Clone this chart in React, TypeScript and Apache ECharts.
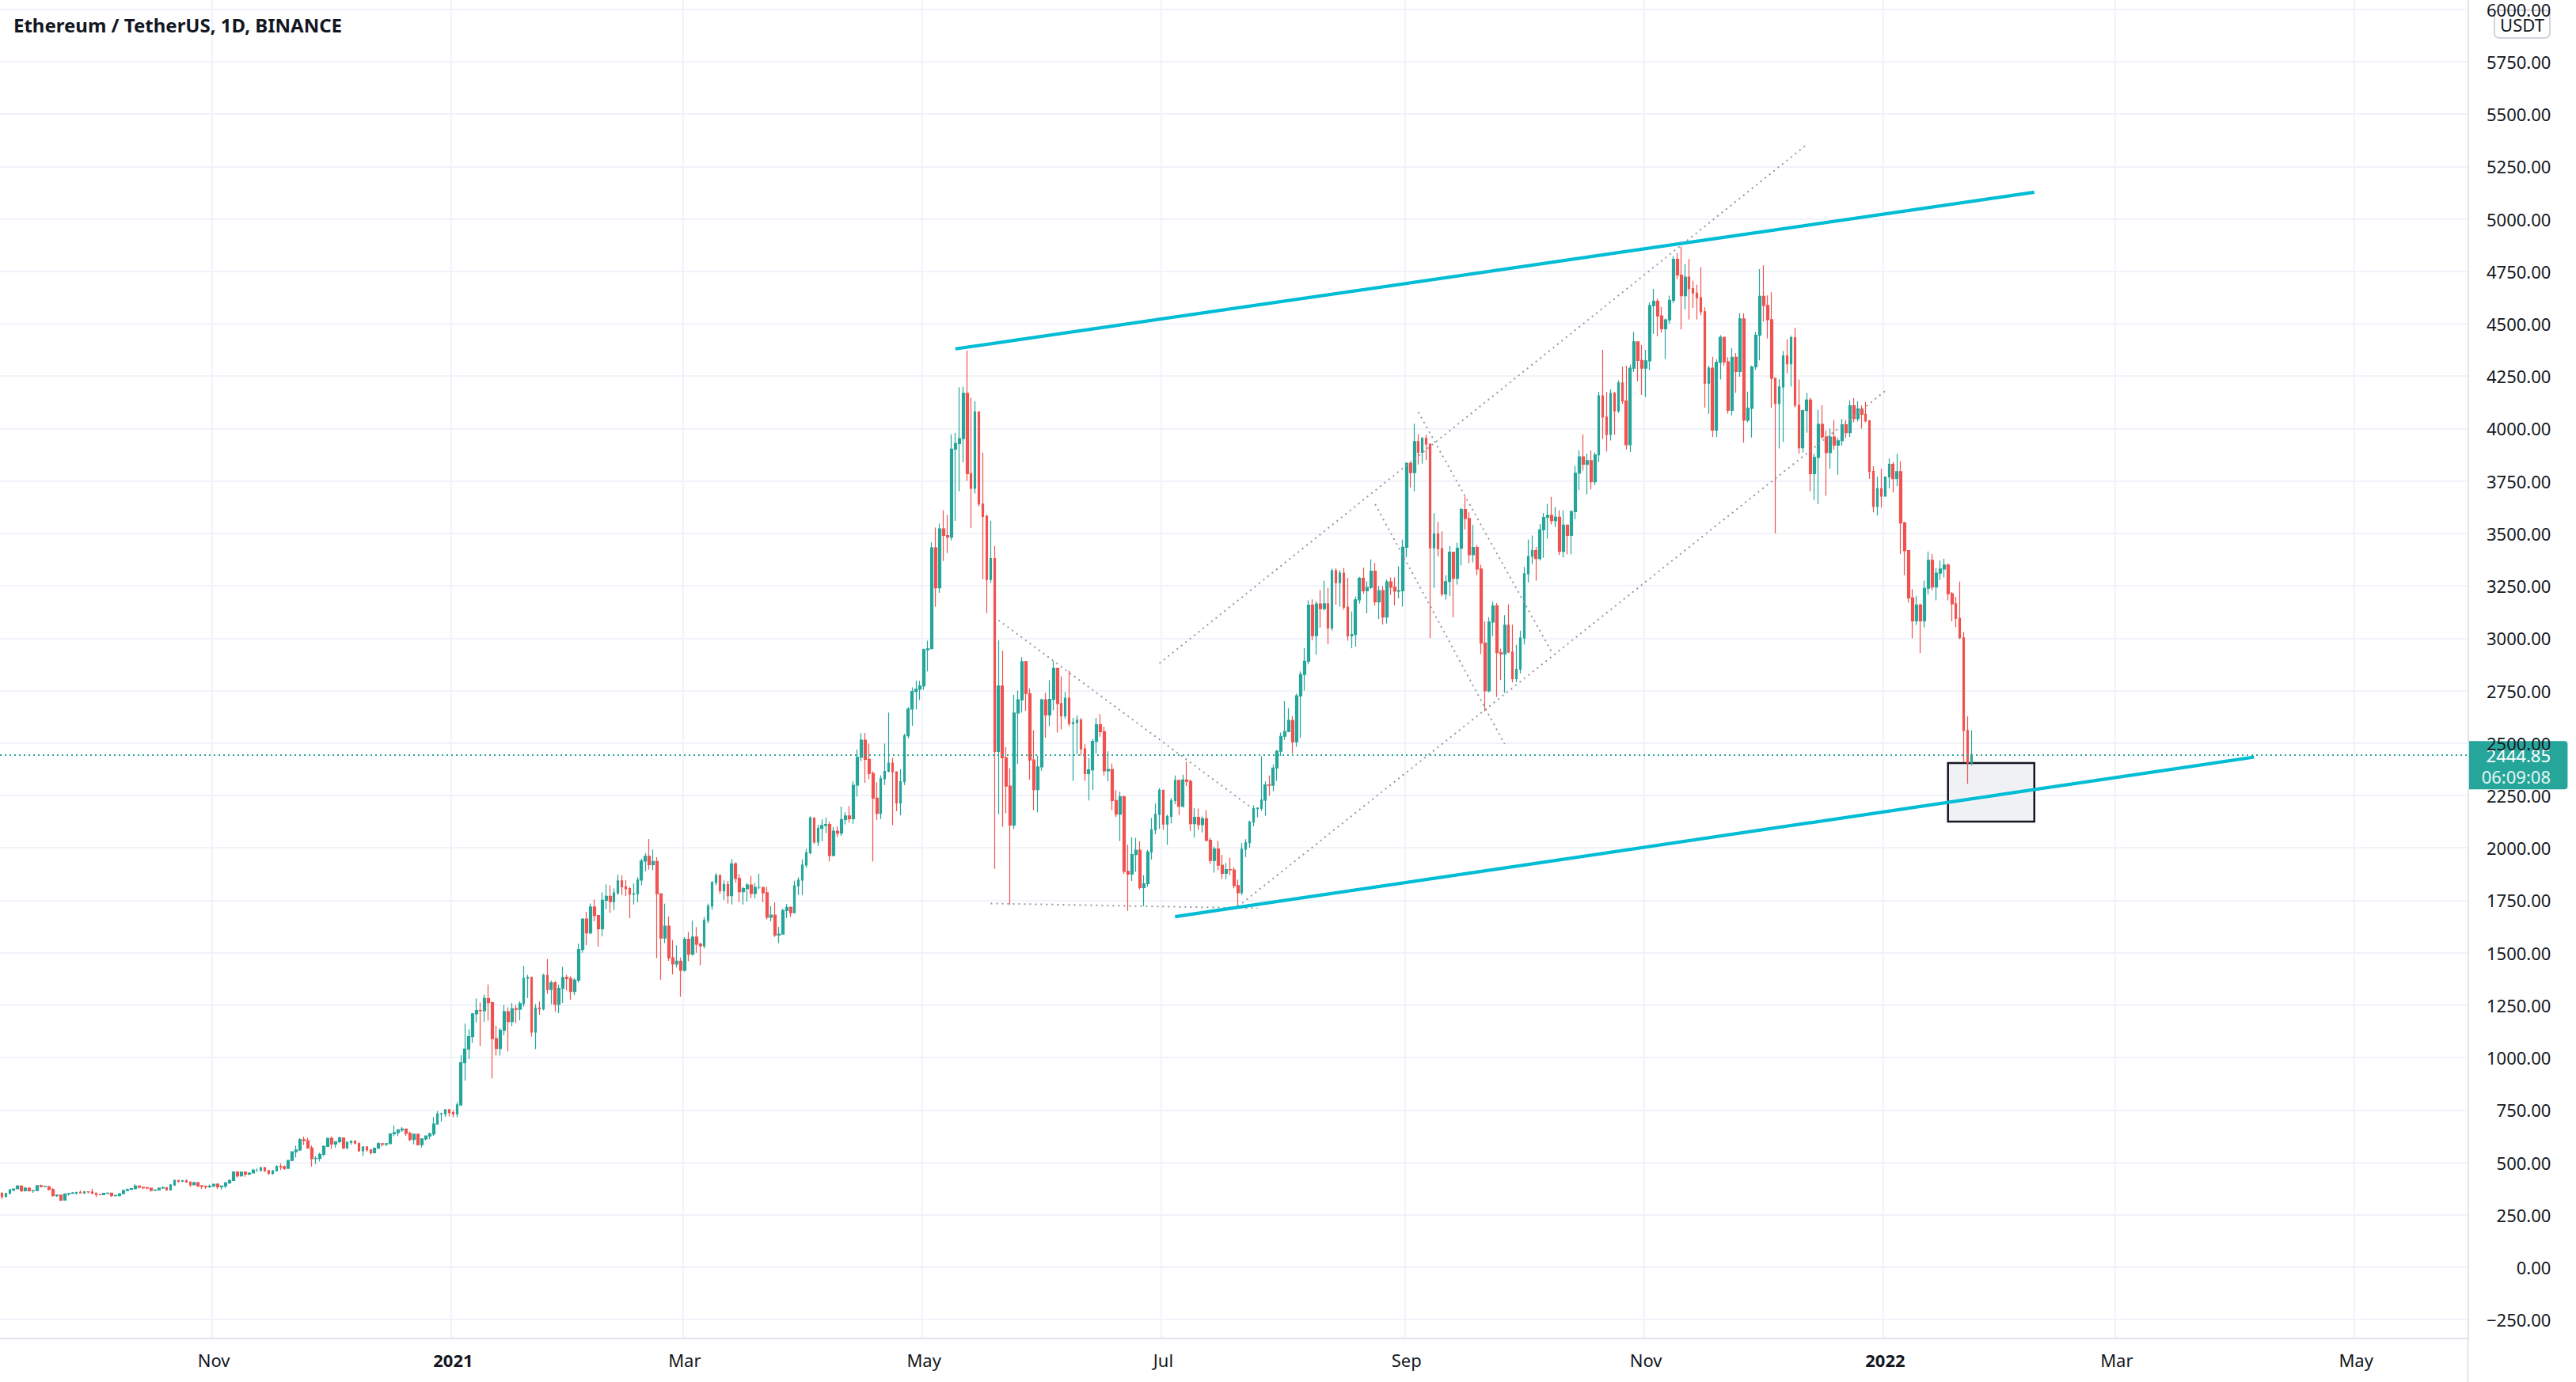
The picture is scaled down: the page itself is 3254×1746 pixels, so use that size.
import React, { useEffect, useRef } from "react";
import * as echarts from "echarts";

const W = 3254;
const H = 1746;
const FONT = '"Noto Sans", "Open Sans", sans-serif';
const UP = "#26a69a";
const DOWN = "#ef5350";
const TEXT = "#131722";
const GRID = "#f0f3fa";
const BORDER = "#e0e3eb";
const CYAN = "#00bcd4";
const DOT = "#9598a1";

const GRID_LEFT = -2.4;
const GRID_RIGHT = 136.6;
const GRID_BOTTOM = 55;
const AXIS_X = W - GRID_RIGHT;
const Y_MIN = -339.8;
const Y_MAX = 6043.8;

const titleText = "Ethereum / TetherUS, 1D, BINANCE";
const currency = "USDT";
const firstDay = "2020-09-08";
const lastDay = "2022-05-29";
const firstOpen = 353.2;
const lastPrice = 2444.85;
const countdown = "06:09:08";

// Daily rows: [close, high, low]; each day opens at the previous close
const sep2020 = [
  [337.6, 357, 325], [351.3, 355, 333], [368.3, 374, 349], [373.6, 375, 361], [387.5, 392, 372], [365.6, 388, 358], [377.3, 383, 360],
  [364.8, 381, 360], [365.6, 367, 355], [389.0, 392, 364], [384.4, 394, 380], [385.1, 390, 381], [370.9, 386, 366], [341.5, 377, 337],
  [344.1, 347, 335], [320.2, 345, 315], [349.3, 351, 318], [351.9, 355, 342], [354.4, 359, 350], [356.9, 359, 345], [353.8, 366, 352],
  [359.8, 362, 349], [358.8, 361, 352],
];
const oct2020 = [
  [353.2, 375, 347], [346.4, 356, 334], [345.7, 350, 343], [352.4, 354, 344], [353.3, 356, 348], [340.8, 355, 335], [341.9, 346, 338],
  [351.1, 352, 337], [365.5, 370, 347], [370.8, 376, 364], [375.1, 376, 367], [387.6, 395, 370], [381.2, 389, 376], [379.2, 384, 372],
  [377.4, 384, 372], [366.2, 378, 360], [368.5, 371, 364], [377.4, 380, 367], [379.6, 385, 374], [368.8, 382, 365], [392.2, 396, 368],
  [413.9, 418, 388], [409.8, 416, 403], [412.2, 416, 406], [406.1, 419, 403], [393.3, 408, 383], [403.8, 408, 392], [388.6, 405, 381],
  [386.6, 393, 374], [383.5, 389, 373], [386.6, 394, 378],
];
const nov2020 = [
  [396.3, 397, 384], [383.2, 401, 374], [387.6, 389, 370], [401.6, 408, 377], [414.0, 418, 398], [454.6, 457, 411], [435.3, 457, 428],
  [453.3, 457, 432], [444.0, 458, 431], [449.2, 453, 440], [462.6, 470, 448], [462.6, 471, 455], [475.4, 477, 456], [461.1, 476, 454],
  [447.6, 462, 441], [459.2, 464, 441], [480.6, 486, 457], [479.0, 495, 463], [471.5, 486, 464], [509.0, 512, 470], [550.9, 552, 506],
  [559.5, 580, 524], [608.4, 615, 554], [603.9, 623, 583], [568.5, 617, 565], [517.8, 580, 480], [518.4, 530, 492], [538.3, 546, 505],
  [575.8, 581, 530], [615.0, 616, 574],
];
const dec2020 = [
  [587.4, 624, 563], [598.4, 600, 570], [616.7, 623, 593], [569.5, 619, 562], [596.1, 600, 563], [601.5, 604, 584], [591.6, 605, 585],
  [554.9, 594, 550], [573.9, 576, 530], [559.8, 575, 550], [545.6, 561, 538], [568.0, 570, 544], [589.0, 596, 566], [586.8, 591, 576],
  [589.7, 592, 578], [636.1, 640, 587], [642.1, 676, 625], [654.7, 660, 626], [659.3, 668, 645], [638.3, 660, 627], [609.0, 646, 600],
  [634.6, 637, 586], [584.6, 636, 580], [611.7, 615, 570], [625.8, 627, 606], [635.3, 643, 611], [682.6, 716, 627], [731.2, 745, 682],
  [731.5, 737, 695], [751.6, 753, 717], [737.8, 754, 720],
];
const jan2021 = [
  [730.4, 750, 715], [774.6, 787, 715], [975.5, 1011, 768], [1040.6, 1162, 890], [1100.2, 1135, 993], [1208.1, 1213, 1070], [1225.0, 1282, 1167],
  [1223.9, 1263, 1055], [1281.7, 1300, 1170], [1262.2, 1349, 1176], [1090.1, 1267, 900], [1043.4, 1151, 1010], [1130.1, 1140, 1010], [1218.8, 1250, 1106],
  [1171.8, 1240, 1030], [1233.5, 1260, 1150], [1230.2, 1250, 1165], [1257.3, 1268, 1178], [1377.3, 1438, 1243], [1382.6, 1395, 1283], [1121.6, 1386, 1100],
  [1236.3, 1255, 1040], [1232.0, 1267, 1204], [1391.6, 1400, 1225], [1324.4, 1470, 1304], [1357.0, 1367, 1254], [1253.2, 1366, 1218], [1330.0, 1349, 1212],
  [1382.2, 1433, 1261], [1376.8, 1394, 1320], [1314.9, 1387, 1275],
];
const feb2021 = [
  [1369.0, 1379, 1299], [1515.2, 1543, 1357], [1660.7, 1664, 1500], [1594.8, 1695, 1535], [1718.2, 1735, 1588], [1677.4, 1753, 1650], [1614.2, 1680, 1530],
  [1750.0, 1787, 1578], [1769.0, 1826, 1708], [1743.6, 1821, 1690], [1784.8, 1806, 1703], [1843.2, 1872, 1776], [1814.2, 1870, 1775], [1805.7, 1847, 1770],
  [1779.5, 1813, 1665], [1781.1, 1830, 1730], [1846.5, 1860, 1740], [1937.2, 1949, 1821], [1960.0, 1975, 1888], [1920.0, 2042, 1896], [1935.6, 1992, 1894],
  [1781.0, 1955, 1474], [1570.0, 1782, 1371], [1626.6, 1734, 1546], [1475.7, 1673, 1461], [1446.0, 1560, 1397], [1459.7, 1535, 1430], [1416.0, 1477, 1290],
];
const mar2021 = [
  [1564, 1574, 1410], [1492, 1600, 1460], [1575, 1653, 1487], [1541, 1622, 1500], [1533, 1548, 1440], [1654, 1670, 1520], [1723, 1735, 1640],
  [1835, 1841, 1704], [1868, 1880, 1821], [1795, 1874, 1781], [1825, 1845, 1752], [1772, 1842, 1735], [1924, 1947, 1730], [1854, 1932, 1834],
  [1791, 1875, 1742], [1806, 1814, 1730], [1823, 1833, 1744], [1782, 1867, 1760], [1812, 1832, 1760], [1812, 1877, 1803], [1786, 1810, 1740],
  [1669, 1814, 1658], [1679, 1722, 1650], [1584, 1740, 1575], [1589, 1623, 1546], [1701, 1710, 1590], [1716, 1732, 1666], [1691, 1720, 1670],
  [1819, 1843, 1690], [1846, 1860, 1775], [1918, 1945, 1775],
];
const apr2021 = [
  [1977, 1995, 1905], [2143, 2151, 1970], [2028, 2145, 2019], [2093, 2110, 2008], [2107, 2136, 2032], [2112, 2145, 2071], [1963, 2125, 1936],
  [2080, 2100, 1960], [2070, 2104, 2052], [2135, 2197, 2057], [2152, 2170, 2112], [2139, 2200, 2121], [2299, 2318, 2115], [2432, 2469, 2244],
  [2514, 2547, 2414], [2422, 2548, 2310], [2355, 2496, 2328], [2237, 2365, 1935], [2164, 2313, 2133], [2330, 2346, 2138], [2365, 2497, 2300],
  [2404, 2645, 2360], [2363, 2429, 2108], [2214, 2354, 2175], [2316, 2375, 2155], [2534, 2544, 2300], [2662, 2672, 2522], [2746, 2765, 2582],
  [2757, 2797, 2660], [2772, 2796, 2706],
];
const may2021 = [
  [2945, 2950, 2755], [2950, 2988, 2842], [3431, 3457, 2948], [3240, 3528, 3150], [3522, 3547, 3216], [3490, 3610, 3368], [3482, 3588, 3406],
  [3902, 3972, 3466], [3928, 3980, 3560], [3952, 4197, 3700], [4168, 4200, 3838], [3785, 4372, 3750], [3715, 4147, 3525], [4079, 4130, 3690],
  [3640, 4080, 3630], [3581, 3885, 3280], [3280, 3590, 3120], [3380, 3560, 3264], [2460, 3440, 1900], [2772, 2990, 2160], [2430, 2940, 2100],
  [2295, 2480, 2165], [2109, 2380, 1728], [2643, 2730, 2090], [2706, 2750, 2400], [2888, 2910, 2645], [2736, 2892, 2654], [2419, 2760, 2325],
  [2278, 2560, 2180], [2386, 2440, 2170], [2706, 2711, 2368],
];
const jun2021 = [
  [2634, 2740, 2525], [2708, 2800, 2580], [2856, 2891, 2657], [2688, 2858, 2550], [2630, 2818, 2565], [2714, 2743, 2616], [2593, 2846, 2580],
  [2598, 2620, 2320], [2609, 2632, 2445], [2472, 2620, 2440], [2354, 2494, 2320], [2372, 2428, 2226], [2508, 2520, 2276], [2587, 2620, 2450],
  [2554, 2638, 2530], [2367, 2578, 2345], [2374, 2460, 2318], [2226, 2403, 2180], [2161, 2275, 2147], [2244, 2267, 2033], [1888, 2250, 1876],
  [1875, 2015, 1700], [1968, 2051, 1842], [1989, 2048, 1886], [1810, 2032, 1802], [1829, 1870, 1721], [1980, 1990, 1815], [2086, 2142, 1944],
  [2160, 2211, 2065], [2275, 2285, 2090],
];
const jul2021 = [
  [2113, 2276, 2087], [2150, 2158, 2015], [2226, 2238, 2117], [2322, 2345, 2208], [2198, 2321, 2156], [2324, 2349, 2192], [2317, 2410, 2294],
  [2115, 2325, 2081], [2146, 2190, 2049], [2111, 2188, 2086], [2139, 2150, 2073], [2036, 2180, 2030], [1940, 2048, 1922], [1995, 2006, 1882],
  [1917, 2034, 1893], [1878, 1967, 1851], [1897, 1928, 1852], [1895, 1954, 1870], [1820, 1907, 1807], [1786, 1849, 1718], [1994, 2022, 1775],
  [2025, 2041, 1956], [2123, 2130, 2001], [2187, 2203, 2103], [2189, 2194, 2146], [2228, 2437, 2177], [2300, 2317, 2154], [2298, 2345, 2248],
  [2381, 2398, 2270], [2461, 2467, 2320], [2532, 2550, 2439],
];
const aug2021 = [
  [2555, 2700, 2515], [2608, 2666, 2552], [2506, 2629, 2450], [2725, 2736, 2482], [2827, 2842, 2525], [2890, 2953, 2750], [3157, 3180, 2876],
  [3012, 3185, 2990], [3163, 3177, 2922], [3141, 3230, 3050], [3164, 3274, 3132], [3049, 3240, 2971], [3322, 3331, 3036], [3265, 3333, 3160],
  [3310, 3325, 3150], [3148, 3335, 3135], [3011, 3288, 2988], [3018, 3128, 2952], [3183, 3199, 2960], [3286, 3293, 3165], [3226, 3337, 3211],
  [3242, 3271, 3118], [3320, 3376, 3235], [3173, 3359, 3156], [3227, 3249, 3091], [3101, 3248, 3065], [3269, 3280, 3070], [3243, 3290, 3207],
  [3224, 3290, 3157], [3226, 3343, 3190], [3434, 3470, 3150],
];
const sep2021 = [
  [3834, 3838, 3387], [3790, 3840, 3718], [3938, 4023, 3700], [3887, 3972, 3829], [3953, 3960, 3833], [3926, 3970, 3850], [3431, 3923, 3000],
  [3497, 3597, 3240], [3427, 3555, 3390], [3211, 3510, 3200], [3270, 3300, 3184], [3410, 3440, 3200], [3286, 3400, 3100], [3429, 3455, 3256],
  [3614, 3622, 3347], [3571, 3676, 3518], [3398, 3600, 3358], [3433, 3540, 3362], [3330, 3445, 3300], [2977, 3350, 2925], [2749, 3080, 2652],
  [3077, 3100, 2742], [3155, 3175, 3011], [2931, 3167, 2720], [2925, 2950, 2800], [3062, 3110, 2740], [2934, 3162, 2928], [2807, 3064, 2790],
  [2852, 2968, 2792], [3001, 3036, 2832],
];
const oct2021 = [
  [3307, 3340, 2970], [3390, 3470, 3265], [3418, 3490, 3353], [3380, 3435, 3275], [3517, 3545, 3370], [3576, 3598, 3383], [3586, 3640, 3475],
  [3560, 3674, 3543], [3577, 3625, 3530], [3414, 3610, 3397], [3540, 3610, 3385], [3490, 3542, 3400], [3604, 3610, 3400], [3787, 3823, 3567],
  [3865, 3897, 3706], [3829, 3972, 3800], [3847, 3880, 3686], [3746, 3895, 3710], [3874, 3885, 3730], [4156, 4175, 3840], [4055, 4375, 3950],
  [3972, 4175, 3890], [4168, 4187, 3943], [4084, 4175, 3970], [4217, 4230, 4075], [4131, 4295, 4118], [3923, 4300, 3900], [4288, 4305, 3888],
  [4414, 4460, 4270], [4325, 4415, 4226], [4288, 4399, 4160],
];
const nov2021 = [
  [4323, 4375, 4151], [4586, 4602, 4278], [4607, 4666, 4452], [4537, 4620, 4440], [4476, 4580, 4457], [4518, 4524, 4332], [4612, 4634, 4500],
  [4807, 4823, 4598], [4732, 4838, 4713], [4633, 4868, 4472], [4722, 4785, 4568], [4667, 4808, 4520], [4646, 4705, 4575], [4624, 4686, 4520],
  [4557, 4770, 4540], [4216, 4578, 4100], [4288, 4300, 4070], [3992, 4342, 3960], [4315, 4330, 3960], [4435, 4445, 4234], [4318, 4437, 4300],
  [4087, 4340, 4070], [4340, 4383, 4063], [4272, 4360, 4170], [4523, 4550, 4247], [4040, 4550, 3933], [4096, 4176, 4030], [4294, 4300, 3957],
  [4445, 4460, 4280], [4631, 4760, 4325],
];
const dec2021 = [
  [4587, 4778, 4510], [4519, 4635, 4430], [4240, 4650, 4100], [4119, 4240, 3500], [4198, 4235, 3905], [4347, 4370, 3935], [4309, 4426, 4264],
  [4433, 4443, 4200], [4111, 4480, 4100], [3908, 4234, 3880], [4086, 4090, 3885], [4136, 4170, 3980], [3785, 4147, 3700], [3862, 3880, 3660],
  [4020, 4090, 3640], [3960, 4112, 3950], [3885, 3990, 3680], [3960, 4000, 3808], [3921, 4040, 3900], [3942, 3955, 3780], [4018, 4046, 3918],
  [3980, 4040, 3955], [4109, 4135, 3960], [4047, 4145, 4030], [4094, 4130, 4034], [4068, 4110, 4000], [4037, 4127, 4030], [3795, 4040, 3760],
  [3628, 3820, 3600], [3713, 3770, 3585], [3677, 3808, 3622],
];
const jan2022 = [
  [3769, 3770, 3676], [3829, 3857, 3715], [3761, 3840, 3695], [3794, 3880, 3725], [3550, 3845, 3400], [3418, 3555, 3300], [3192, 3420, 3170],
  [3083, 3234, 3000], [3158, 3200, 3063], [3083, 3165, 2928], [3238, 3275, 3052], [3372, 3414, 3210], [3244, 3402, 3228], [3310, 3334, 3180],
  [3330, 3370, 3278], [3349, 3380, 3290], [3212, 3357, 3180], [3164, 3220, 3080], [3095, 3197, 3053], [3002, 3270, 2995], [2560, 3030, 2410],
  [2405, 2627, 2306], [2444.85, 2560, 2393],
];

const priceTicks = [
  -250, 0, 250, 500, 750, 1000, 1250, 1500, 1750, 2000, 2250, 2500, 2750, 3000, 3250, 3500, 3750, 4000, 4250, 4500, 4750, 5000,
  5250, 5500, 5750, 6000,
];

const timeLabels = [
  { date: "2020-11-01", text: "Nov", bold: false },
  { date: "2021-01-01", text: "2021", bold: true },
  { date: "2021-03-01", text: "Mar", bold: false },
  { date: "2021-05-01", text: "May", bold: false },
  { date: "2021-07-01", text: "Jul", bold: false },
  { date: "2021-09-01", text: "Sep", bold: false },
  { date: "2021-11-01", text: "Nov", bold: false },
  { date: "2022-01-01", text: "2022", bold: true },
  { date: "2022-03-01", text: "Mar", bold: false },
  { date: "2022-05-01", text: "May", bold: false },
];

// Drawn trend lines: [date, price] end points
const cyanLines = [
  [["2021-05-09", 4380], ["2022-02-08", 5127]],
  [["2021-07-04", 1672], ["2022-04-05", 2433]],
];
const dottedLines = [
  [["2021-05-18", 1735], ["2021-07-25", 1712]],
  [["2021-05-20", 3086], ["2021-07-23", 2198]],
  [["2021-06-30", 2880], ["2021-12-12", 5354]],
  [["2021-07-20", 1720], ["2022-01-01", 4179]],
  [["2021-09-04", 4078], ["2021-10-08", 2934]],
  [["2021-08-24", 3639], ["2021-09-26", 2495]],
];
const boxCorners = [["2022-01-17", 2405], ["2022-02-08", 2125]];

function buildDays(a: string, b: string): string[] {
  const out: string[] = [];
  let t = Date.parse(a + "T00:00:00Z");
  const e = Date.parse(b + "T00:00:00Z");
  while (t <= e) {
    out.push(new Date(t).toISOString().slice(0, 10));
    t += 86400000;
  }
  return out;
}

function fmtPrice(v: number): string {
  const s = Math.abs(v).toFixed(2);
  return v < 0 ? "\u2212" + s : s;
}

export default function App() {
  const ref = useRef<HTMLDivElement>(null);

  useEffect(() => {
    if (!ref.current) return;
    const chart = echarts.init(ref.current, null, { renderer: "svg" });
    const days = buildDays(firstDay, lastDay);
    const rows = [
      sep2020, oct2020, nov2020, dec2020, jan2021, feb2021, mar2021, apr2021, may2021, jun2021, jul2021, aug2021,
      sep2021, oct2021, nov2021, dec2021, jan2022,
    ].flat();
    let prev = firstOpen;
    const candles = rows.map(([c, h, l]) => {
      const o = prev;
      prev = c;
      return [o, c, Math.min(l, o, c), Math.max(h, o, c)];
    });

    const labelMap = new Map(timeLabels.map((t) => [t.date, t]));
    const showAt = (_i: number, v: string) => labelMap.has(v);

    const series: any[] = [
      {
        type: "line",
        data: [],
        z: 1,
        silent: true,
        markArea: {
          silent: true,
          itemStyle: { color: "#f0f1f5", borderColor: TEXT, borderWidth: 2.5 },
          data: [[{ coord: boxCorners[0] }, { coord: boxCorners[1] }]],
        },
      },
      {
        type: "candlestick",
        data: candles,
        barWidth: 3.2,
        z: 2,
        itemStyle: { color: UP, color0: DOWN, borderColor: UP, borderColor0: DOWN, borderWidth: 1.2 },
        markLine: {
          silent: true,
          symbol: ["none", "none"],
          label: { show: false },
          lineStyle: { color: UP, type: [2, 4], width: 2 },
          data: [{ yAxis: lastPrice }],
        },
      },
      ...dottedLines.map((seg) => ({
        type: "line",
        data: seg,
        symbol: "none",
        silent: true,
        z: 3,
        lineStyle: { color: DOT, width: 2, type: [2, 5] },
      })),
      ...cyanLines.map((seg) => ({
        type: "line",
        data: seg,
        symbol: "none",
        silent: true,
        z: 4,
        lineStyle: { color: CYAN, width: 4.2 },
      })),
    ];

    chart.setOption({
      animation: false,
      backgroundColor: "#ffffff",
      title: {
        text: titleText,
        left: 17,
        top: 19,
        padding: 0,
        textStyle: { fontSize: 24, fontWeight: "bold", fontFamily: FONT, color: TEXT },
      },
      grid: { left: GRID_LEFT, right: GRID_RIGHT, top: 0, bottom: GRID_BOTTOM, containLabel: false },
      xAxis: {
        type: "category",
        data: days,
        boundaryGap: true,
        axisLine: { show: true, onZero: false, lineStyle: { color: BORDER, width: 2 } },
        axisTick: { show: false },
        axisLabel: {
          interval: showAt,
          formatter: (v: string) => {
            const t = labelMap.get(v);
            if (!t) return "";
            return t.bold ? `{b|${t.text}}` : t.text;
          },
          color: TEXT,
          fontSize: 22,
          fontFamily: FONT,
          margin: 16,
          rich: { b: { fontWeight: "bold", fontSize: 22, fontFamily: FONT, color: TEXT } },
        },
        splitLine: { show: true, interval: showAt, lineStyle: { color: GRID, width: 2 } },
      },
      yAxis: {
        type: "value",
        position: "right",
        min: Y_MIN,
        max: Y_MAX,
        axisLine: { show: true, onZero: false, lineStyle: { color: BORDER, width: 2 } },
        axisTick: { show: false, customValues: priceTicks },
        axisLabel: {
          customValues: priceTicks,
          formatter: (v: number) => fmtPrice(v),
          align: "right",
          margin: 105,
          color: TEXT,
          fontSize: 22,
          fontFamily: FONT,
        },
        splitLine: { show: true, lineStyle: { color: GRID, width: 2 } },
      },
      series,
    });

    const py = chart.convertToPixel({ yAxisIndex: 0 }, lastPrice) as number;
    chart.setOption({
      graphic: [
        {
          type: "line",
          z: 50,
          shape: { x1: AXIS_X, y1: H - GRID_BOTTOM, x2: AXIS_X, y2: H },
          style: { stroke: BORDER, lineWidth: 2 },
        },
        {
          type: "group",
          z: 100,
          children: [
            {
              type: "rect",
              shape: { x: 3151, y: 13, width: 70, height: 35, r: 6 },
              style: { fill: "#ffffff", stroke: "#d1d4dc", lineWidth: 2 },
            },
            {
              type: "text",
              x: 3186,
              y: 31,
              style: {
                text: currency, fill: TEXT, fontSize: 22, fontFamily: FONT,
                align: "center", verticalAlign: "middle", textAlign: "center", textVerticalAlign: "middle",
              },
            },
          ],
        },
        {
          type: "group",
          z: 100,
          children: [
            {
              type: "rect",
              shape: { x: AXIS_X + 1, y: py - 17, width: 125, height: 61, r: [0, 4, 4, 0] },
              style: { fill: UP },
            },
            {
              type: "text",
              x: 3222,
              y: py + 1,
              style: {
                text: lastPrice.toFixed(2), fill: "#ffffff", fontSize: 22, fontFamily: FONT,
                align: "right", verticalAlign: "middle", textAlign: "right", textVerticalAlign: "middle",
              },
            },
            {
              type: "text",
              x: 3222,
              y: py + 28,
              style: {
                text: countdown, fill: "#e8f5f3", fontSize: 22, fontFamily: FONT,
                align: "right", verticalAlign: "middle", textAlign: "right", textVerticalAlign: "middle",
              },
            },
          ],
        },
      ],
    });

    return () => chart.dispose();
  }, []);

  return (
    <div
      ref={ref}
      style={{ position: "fixed", left: 0, top: 0, width: W, height: H, background: "#ffffff" }}
    />
  );
}
